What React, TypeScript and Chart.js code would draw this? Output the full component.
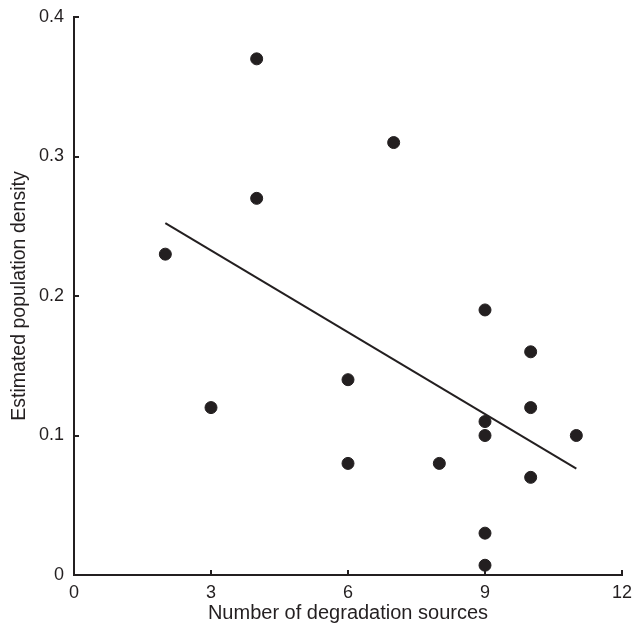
import React, { useEffect, useRef } from "react";
import { Chart, registerables } from "chart.js";

Chart.register(...registerables);

const sourcesX: number[] = [2, 3, 4, 4, 6, 6, 7, 8, 9, 9, 9, 9, 9, 10, 10, 10, 11];
const densityY: number[] = [0.23, 0.12, 0.37, 0.27, 0.14, 0.08, 0.31, 0.08, 0.19, 0.11, 0.1, 0.03, 0.007, 0.16, 0.12, 0.07, 0.1];
const fitX: number[] = [2, 11];
const fitY: number[] = [0.2523, 0.0763];
const xTicks: number[] = [0, 3, 6, 9, 12];
const yTicks: number[] = [0, 0.1, 0.2, 0.3, 0.4];

const INK = "#231f20";
const FONT = "'Liberation Sans', Arial, Helvetica, sans-serif";

const innerTicks = {
  id: "innerTicks",
  afterDraw(chart: any) {
    const { ctx, chartArea, scales } = chart;
    ctx.save();
    ctx.strokeStyle = INK;
    ctx.lineWidth = 2;
    const len = 5;
    xTicks.forEach((v) => {
      if (v === 0) return;
      const px = Math.round(scales.x.getPixelForValue(v));
      ctx.beginPath();
      ctx.moveTo(px, chartArea.bottom);
      ctx.lineTo(px, chartArea.bottom - len);
      ctx.stroke();
    });
    yTicks.forEach((v) => {
      if (v === 0) return;
      const py = Math.round(scales.y.getPixelForValue(v));
      ctx.beginPath();
      ctx.moveTo(chartArea.left, py);
      ctx.lineTo(chartArea.left + len, py);
      ctx.stroke();
    });
    ctx.restore();
  },
};

export default function App() {
  const ref = useRef<HTMLCanvasElement | null>(null);

  useEffect(() => {
    if (!ref.current) return;
    const points = sourcesX.map((x, i) => ({ x, y: densityY[i] }));
    const fit = fitX.map((x, i) => ({ x, y: fitY[i] }));
    const chart = new Chart(ref.current, {
      type: "scatter",
      data: {
        datasets: [
          {
            type: "line",
            data: fit,
            borderColor: INK,
            borderWidth: 2,
            pointRadius: 0,
            fill: false,
            order: 2,
          } as any,
          {
            data: points,
            backgroundColor: INK,
            borderColor: INK,
            borderWidth: 1,
            pointRadius: 6,
            order: 1,
          },
        ],
      },
      options: {
        animation: false,
        responsive: false,
        maintainAspectRatio: false,
        layout: { padding: { top: 17, right: 11, left: 0, bottom: 0 } },
        plugins: {
          legend: { display: false },
          tooltip: { enabled: false },
        },
        scales: {
          x: {
            type: "linear",
            min: 0,
            max: 12,
            afterBuildTicks: (scale: any) => {
              scale.ticks = xTicks.map((v) => ({ value: v }));
            },
            afterFit: (scale: any) => {
              scale.height = 53;
              scale.paddingLeft = 0;
              scale.paddingRight = 0;
            },
            grid: { display: true, drawOnChartArea: false, drawTicks: false },
            border: { display: true, color: INK, width: 2 },
            ticks: {
              color: INK,
              padding: 7,
              font: { family: FONT, size: 18 },
              maxRotation: 0,
              callback: (v: any) => String(v),
            },
            title: {
              display: true,
              text: "Number of degradation sources",
              color: INK,
              font: { family: FONT, size: 20 },
              padding: { top: 0, bottom: 3 },
            },
          },
          y: {
            type: "linear",
            min: 0,
            max: 0.4,
            afterBuildTicks: (scale: any) => {
              scale.ticks = yTicks.map((v) => ({ value: v }));
            },
            afterFit: (scale: any) => {
              scale.width = 74;
              scale.paddingTop = 0;
              scale.paddingBottom = 0;
            },
            grid: { display: true, drawOnChartArea: false, drawTicks: false },
            border: { display: true, color: INK, width: 2 },
            ticks: {
              color: INK,
              padding: 10,
              font: { family: FONT, size: 18 },
              callback: (v: any) => (v === 0 ? "0" : Number(v).toFixed(1)),
            },
            title: {
              display: true,
              text: "Estimated population density",
              color: INK,
              font: { family: FONT, size: 19.5 },
              padding: { top: 8, bottom: 0 },
            },
          },
        },
      },
      plugins: [innerTicks],
    });
    return () => chart.destroy();
  }, []);

  return (
    <div style={{ position: "fixed", left: 0, top: 0, width: 633, height: 628, background: "#fff" }}>
      <canvas ref={ref} width={633} height={628} style={{ width: 633, height: 628, display: "block" }} />
    </div>
  );
}
